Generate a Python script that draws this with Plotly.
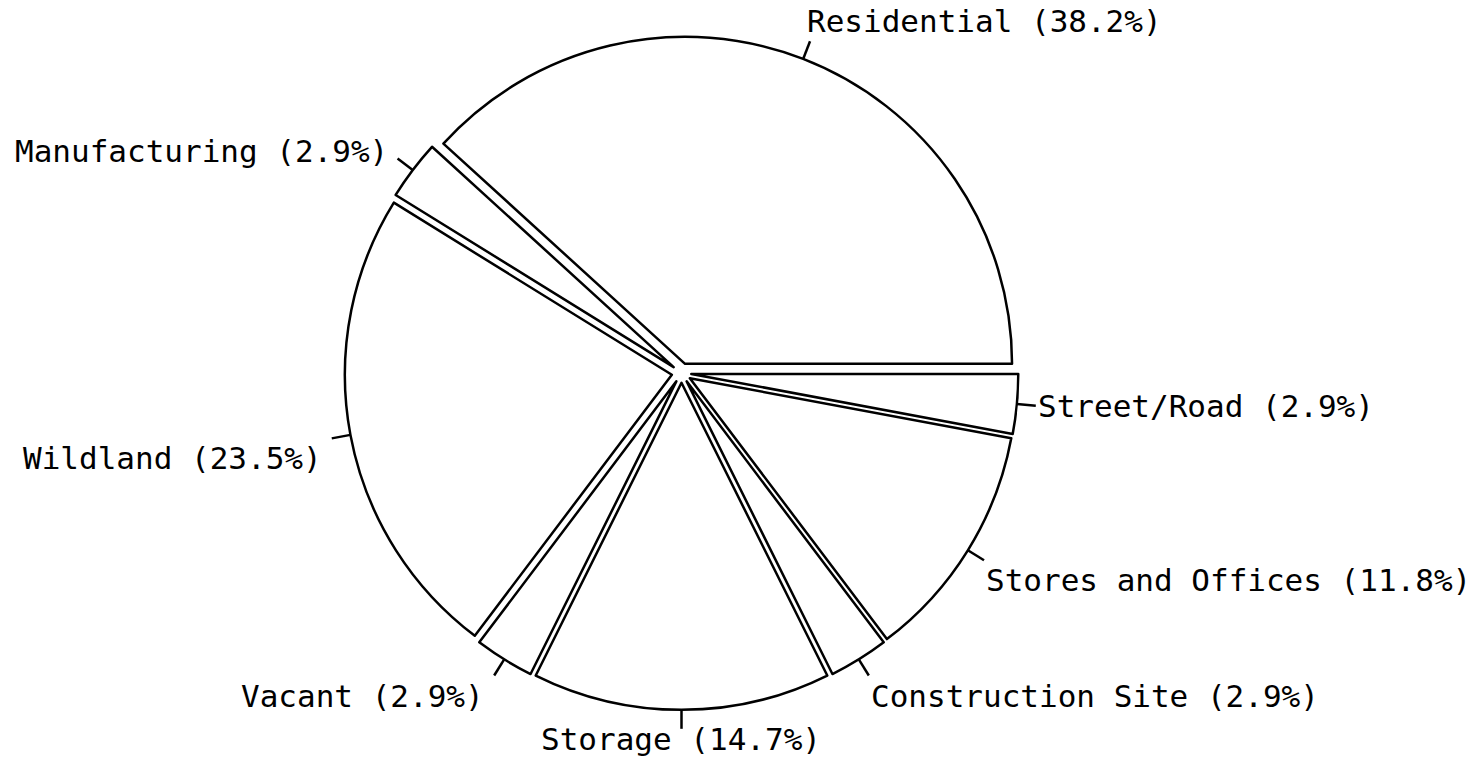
import math
import plotly.graph_objects as go

# ---- data ----
categories = ["Residential", "Manufacturing", "Wildland", "Vacant",
              "Storage", "Construction Site", "Stores and Offices", "Street/Road"]
counts = [13, 1, 8, 1, 5, 1, 4, 1]

# ---- layout constants (pixels) ----
W, H = 1482, 773
CX, CY = 681.5, 373    # pie centre
R = 327                # pie radius
PULL = 0.03            # explode fraction
TICK = 19              # leader tick length
FONT = dict(family="DejaVu Sans Mono", size=31, color="black")

total = sum(counts)
n = len(counts)
D = 2 * R * (1 + PULL)
dom_x = [(CX - D / 2) / W, (CX + D / 2) / W]
dom_y = [1 - (CY + D / 2) / H, 1 - (CY - D / 2) / H]

fig = go.Figure(go.Pie(
    labels=categories, values=counts, sort=False,
    direction="counterclockwise",
    rotation=90 - 360 * counts[0] / total,
    pull=[PULL] * n,
    marker=dict(colors=["white"] * n, line=dict(color="black", width=2.5)),
    textinfo="none", hoverinfo="label+percent",
    domain=dict(x=dom_x, y=dom_y), showlegend=False,
))


def px2paper(x, y):
    return x / W, 1 - y / H


shapes, annotations = [], []
cum = 0
for cat, v in zip(categories, counts):
    mid = math.radians((cum + v / 2) / total * 360)
    cum += v
    c, s = math.cos(mid), math.sin(mid)
    r0 = R * (1 + PULL)
    r1 = r0 + TICK
    x0, y0 = px2paper(CX + r0 * c, CY - r0 * s)
    x1, y1 = px2paper(CX + r1 * c, CY - r1 * s)
    shapes.append(dict(type="line", xref="paper", yref="paper",
                       x0=x0, y0=y0, x1=x1, y1=y1,
                       line=dict(color="black", width=2.5)))
    xa = "left" if c > 0.2 else ("right" if c < -0.2 else "center")
    ya = "bottom" if s > 0.7 else ("top" if s < -0.1 else "middle")
    xs = -8 if xa == "right" else (-5 if ya == "bottom" else 0)
    if xa == "center" and ya == "top":
        ys = 10
    elif ya == "middle" and s > 0.3:
        ys = 8
    else:
        ys = 0
    annotations.append(dict(xref="paper", yref="paper", x=x1, y=y1,
                            xanchor=xa, yanchor=ya, xshift=xs, yshift=ys,
                            showarrow=False,
                            text=f"{cat} ({100 * v / total:.1f}%)",
                            font=FONT))

fig.update_layout(
    width=W, height=H, margin=dict(l=0, r=0, t=0, b=0),
    paper_bgcolor="white", plot_bgcolor="white",
    shapes=shapes, annotations=annotations,
)

fig.write_html("out.html", config={"displayModeBar": False})
with open("out.html", "r", encoding="utf-8") as f:
    html = f.read()
html = html.replace("<body>", '<body style="margin:0;overflow:hidden">', 1)
with open("out.html", "w", encoding="utf-8") as f:
    f.write(html)
